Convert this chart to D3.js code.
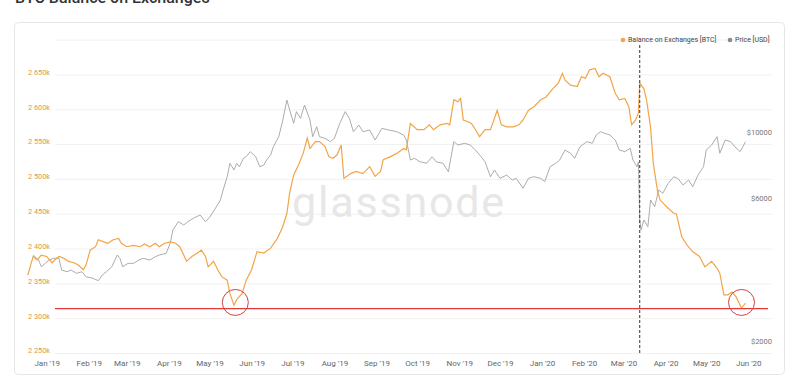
<!DOCTYPE html>
<html>
<head>
<meta charset="utf-8">
<script src="https://cdn.jsdelivr.net/npm/d3@7"></script>
<style>
body { margin: 0; background: #fff; }
text { font-family: Roboto, "Open Sans", sans-serif; }
</style>
</head>
<body>
<div id="chart"></div>
<script>
// BTC balance held on exchanges, thousands of BTC
var balance = [
	["2018-12-18",2358],["2018-12-22",2385],["2018-12-25",2380],["2018-12-28",2387],
	["2019-01-01",2385],["2019-01-05",2376],["2019-01-07",2380],["2019-01-10",2385],["2019-01-13",2383],["2019-01-17",2378],["2019-01-21",2376],["2019-01-24",2373],["2019-01-28",2366],["2019-01-30",2373],
	["2019-02-02",2394],["2019-02-06",2399],["2019-02-08",2409],["2019-02-12",2406],["2019-02-15",2404],["2019-02-19",2409],["2019-02-23",2411],["2019-02-25",2404],
	["2019-03-01",2399],["2019-03-06",2401],["2019-03-11",2399],["2019-03-14",2403],["2019-03-18",2399],["2019-03-22",2404],["2019-03-25",2399],["2019-03-29",2404],
	["2019-04-02",2406],["2019-04-06",2404],["2019-04-09",2399],["2019-04-12",2387],["2019-04-14",2378],["2019-04-18",2385],["2019-04-22",2390],["2019-04-25",2394],["2019-04-28",2385],["2019-04-30",2370],
	["2019-05-04",2378],["2019-05-07",2366],["2019-05-10",2356],["2019-05-14",2351],["2019-05-16",2332],["2019-05-19",2315],["2019-05-21",2323],["2019-05-25",2332],["2019-05-28",2351],
	["2019-06-01",2366],["2019-06-05",2392],["2019-06-10",2390],["2019-06-15",2397],["2019-06-20",2411],["2019-06-24",2428],["2019-06-27",2447],["2019-06-29",2476],
	["2019-07-02",2502],["2019-07-05",2514],["2019-07-09",2533],["2019-07-12",2555],["2019-07-14",2540],["2019-07-18",2550],["2019-07-21",2550],["2019-07-25",2543],["2019-07-28",2528],["2019-07-31",2526],
	["2019-08-03",2531],["2019-08-06",2545],["2019-08-08",2497],["2019-08-13",2504],["2019-08-17",2507],["2019-08-22",2504],["2019-08-27",2514],["2019-08-31",2500],
	["2019-09-04",2507],["2019-09-06",2524],["2019-09-11",2528],["2019-09-16",2533],["2019-09-21",2540],["2019-09-23",2538],["2019-09-26",2576],
	["2019-10-01",2567],["2019-10-06",2567],["2019-10-10",2574],["2019-10-13",2567],["2019-10-18",2574],["2019-10-23",2576],["2019-10-25",2574],["2019-10-28",2610],["2019-10-31",2607],
	["2019-11-02",2612],["2019-11-04",2581],["2019-11-08",2578],["2019-11-10",2576],["2019-11-13",2567],["2019-11-16",2557],["2019-11-20",2567],["2019-11-24",2567],["2019-11-29",2595],
	["2019-12-02",2574],["2019-12-06",2571],["2019-12-11",2571],["2019-12-15",2574],["2019-12-18",2581],["2019-12-22",2595],["2019-12-26",2600],["2019-12-31",2610],
	["2020-01-04",2614],["2020-01-09",2626],["2020-01-13",2634],["2020-01-16",2648],["2020-01-18",2638],["2020-01-22",2631],["2020-01-27",2629],["2020-01-30",2643],
	["2020-02-02",2641],["2020-02-05",2653],["2020-02-09",2655],["2020-02-12",2643],["2020-02-15",2648],["2020-02-20",2643],["2020-02-24",2619],["2020-02-27",2610],
	["2020-03-02",2612],["2020-03-05",2600],["2020-03-07",2574],["2020-03-10",2581],["2020-03-12",2591],["2020-03-13",2634],["2020-03-16",2626],["2020-03-18",2610],["2020-03-21",2570],["2020-03-23",2519],["2020-03-26",2480],["2020-03-28",2466],
	["2020-04-02",2456],["2020-04-07",2447],["2020-04-09",2446],["2020-04-13",2413],["2020-04-17",2401],["2020-04-21",2392],["2020-04-26",2385],["2020-04-30",2370],
	["2020-05-05",2378],["2020-05-09",2368],["2020-05-11",2361],["2020-05-14",2330],["2020-05-17",2330],["2020-05-20",2334],["2020-05-23",2327],["2020-05-27",2311],["2020-05-30",2318]
];

// BTC price, USD
var price = [
	["2018-12-22",3869],["2018-12-26",3723],["2018-12-28",3535],["2018-12-31",3629],
	["2019-01-03",3723],["2019-01-06",3772],["2019-01-10",3772],["2019-01-12",3447],["2019-01-16",3402],["2019-01-19",3447],["2019-01-23",3360],["2019-01-27",3402],["2019-01-30",3273],
	["2019-02-04",3234],["2019-02-08",3175],["2019-02-11",3317],["2019-02-14",3402],["2019-02-18",3535],["2019-02-22",3869],["2019-02-24",3772],["2019-02-26",3535],
	["2019-03-02",3629],["2019-03-06",3629],["2019-03-10",3723],["2019-03-13",3772],["2019-03-18",3723],["2019-03-22",3819],["2019-03-25",3869],["2019-03-30",3920],
	["2019-04-02",4234],["2019-04-04",4690],["2019-04-08",5000],["2019-04-12",4875],["2019-04-15",5000],["2019-04-19",5133],["2019-04-24",5265],["2019-04-28",5000],
	["2019-05-01",5170],["2019-05-05",5514],["2019-05-09",5910],["2019-05-11",6383],["2019-05-14",7071],["2019-05-16",7839],["2019-05-19",7445],["2019-05-21",7839],["2019-05-23",7638],["2019-05-26",8147],["2019-05-28",8249],["2019-05-31",8574],
	["2019-06-04",8249],["2019-06-07",7638],["2019-06-10",7737],["2019-06-12",8040],["2019-06-15",8360],["2019-06-17",8906],["2019-06-21",9623],["2019-06-24",10940],["2019-06-27",12760],["2019-06-29",11820],
	["2019-07-02",10670],["2019-07-04",11670],["2019-07-07",11090],["2019-07-10",12280],["2019-07-14",10940],["2019-07-16",9623],["2019-07-19",10390],["2019-07-21",9623],["2019-07-25",9504],["2019-07-29",9260],
	["2019-08-01",9504],["2019-08-05",10670],["2019-08-09",11670],["2019-08-12",11090],["2019-08-15",10000],["2019-08-19",10530],["2019-08-22",10000],["2019-08-27",10130],["2019-08-31",9380],
	["2019-09-05",10260],["2019-09-10",10130],["2019-09-16",10000],["2019-09-21",9750],["2019-09-23",9380],["2019-09-26",8040],["2019-09-29",8147],
	["2019-10-03",7937],["2019-10-08",7839],["2019-10-12",8249],["2019-10-15",7937],["2019-10-20",7839],["2019-10-24",7348],["2019-10-28",9260],["2019-10-31",9027],
	["2019-11-05",9146],["2019-11-09",9027],["2019-11-13",8686],["2019-11-16",8360],["2019-11-20",7937],["2019-11-24",7071],["2019-11-27",7445],
	["2019-12-01",6984],["2019-12-06",7165],["2019-12-10",6894],["2019-12-13",6984],["2019-12-18",6467],["2019-12-22",6984],["2019-12-26",7071],["2019-12-31",6984],
	["2020-01-03",6805],["2020-01-07",7638],["2020-01-11",7839],["2020-01-14",8040],["2020-01-18",8686],["2020-01-22",8469],["2020-01-25",8147],["2020-01-29",8906],
	["2020-02-03",9260],["2020-02-07",9146],["2020-02-10",9750],["2020-02-13",10000],["2020-02-16",9877],["2020-02-20",9750],["2020-02-24",9380],["2020-02-27",8686],
	["2020-03-02",8574],["2020-03-06",8801],["2020-03-08",8040],["2020-03-11",7638],["2020-03-12",7919],["2020-03-13",5066],["2020-03-14",4690],["2020-03-16",5066],["2020-03-19",4812],["2020-03-21",5910],["2020-03-24",5613],["2020-03-27",6383],["2020-03-30",6223],
	["2020-04-03",6721],["2020-04-07",7071],["2020-04-10",6984],["2020-04-14",6633],["2020-04-18",6894],["2020-04-21",6546],["2020-04-25",7165],["2020-04-29",7638],
	["2020-05-01",8686],["2020-05-05",9027],["2020-05-09",9623],["2020-05-11",8469],["2020-05-15",9380],["2020-05-19",9260],["2020-05-22",8906],["2020-05-26",8574],["2020-05-30",9260]
];

var balanceTicks = [2250, 2300, 2350, 2400, 2450, 2500, 2550, 2600, 2650];
var priceTicks = [2000, 6000, 10000];

// annotations: support level, circled lows, crash day
var supportLevel = 2310;
var circledLows = [["2019-05-20", 2319], ["2020-05-27", 2319]];
var crashDate = "2020-03-13";

var width = 800, height = 389;
var parse = d3.utcParse("%Y-%m-%d");

var svg = d3.select("#chart")
	.append("svg")
	.attr("width", width)
	.attr("height", height);

var x = d3.scaleUtc()
	.domain([parse("2019-01-01"), parse("2020-06-01")])
	.range([46.7, 748.3]);

var yBal = d3.scaleLinear()
	.domain([2250, 2650])
	.range([350.5, 71.9]);

var yPrice = d3.scaleLog()
	.domain([2000, 10000])
	.range([340.7, 131.7]);

// page title, scrolled partly out of view as in the screenshot
svg.append("text")
	.attr("x", 15)
	.attr("y", 3)
	.attr("font-size", 16)
	.attr("font-weight", 500)
	.attr("fill", "#333")
	.text("BTC Balance on Exchanges");

// card
svg.append("rect")
	.attr("x", 14.5)
	.attr("y", 22.5)
	.attr("width", 770)
	.attr("height", 352)
	.attr("rx", 4)
	.attr("fill", "#fff")
	.attr("stroke", "#e6e6e6");

// gridlines
svg.append("g")
	.selectAll("line")
	.data(balanceTicks.concat([2700]))
	.enter()
	.append("line")
	.attr("x1", 55)
	.attr("x2", 772)
	.attr("y1", function(d){ return yBal(d) + 3; })
	.attr("y2", function(d){ return yBal(d) + 3; })
	.attr("stroke", "#f1f1f1");

// watermark
svg.append("text")
	.attr("x", 292)
	.attr("y", 217)
	.attr("font-size", 43)
	.attr("letter-spacing", 1.8)
	.attr("fill", "#e7e7e7")
	.text("glassnode");

var xAxis = d3.axisBottom(x)
	.ticks(d3.utcMonth.every(1))
	.tickFormat(d3.utcFormat("%b '%y"))
	.tickSizeInner(0)
	.tickSizeOuter(0)
	.tickPadding(4);

var gx = svg.append("g")
	.attr("transform", "translate(0,356)")
	.call(xAxis);
gx.select(".domain").remove();
gx.selectAll("text").attr("font-size", 8).attr("fill", "#666").attr("font-family", "Roboto");

var yAxisL = d3.axisLeft(yBal)
	.tickValues(balanceTicks)
	.tickFormat(function(d){ return d3.format(",")(d).replace(",", " ") + "k"; })
	.tickSizeInner(0)
	.tickSizeOuter(0)
	.tickPadding(0);

var gl = svg.append("g")
	.attr("transform", "translate(50,0)")
	.call(yAxisL);
gl.select(".domain").remove();
gl.selectAll("text").attr("font-size", 7.3).attr("fill", "#d39a4e").attr("font-family", "Roboto");

var yAxisR = d3.axisRight(yPrice)
	.tickValues(priceTicks)
	.tickFormat(function(d){ return "$" + d; })
	.tickSizeInner(0)
	.tickSizeOuter(0)
	.tickPadding(0);

var gr = svg.append("g")
	.attr("transform", "translate(772,0)")
	.call(yAxisR);
gr.select(".domain").remove();
gr.selectAll("text").attr("text-anchor", "end").attr("font-size", 7.5).attr("fill", "#777").attr("font-family", "Roboto");

// price line
var priceLine = d3.line()
	.x(function(d){ return x(parse(d[0])); })
	.y(function(d){ return yPrice(d[1]); });

svg.append("path")
	.datum(price)
	.attr("d", priceLine)
	.attr("fill", "none")
	.attr("stroke", "#a3a3a3")
	.attr("stroke-width", 0.9);

// balance line
var balanceLine = d3.line()
	.x(function(d){ return x(parse(d[0])); })
	.y(function(d){ return yBal(d[1]); });

svg.append("path")
	.datum(balance)
	.attr("d", balanceLine)
	.attr("fill", "none")
	.attr("stroke", "#f2a546")
	.attr("stroke-width", 1.2);

// crash marker
svg.append("line")
	.attr("x1", x(parse(crashDate)))
	.attr("x2", x(parse(crashDate)))
	.attr("y1", 45)
	.attr("y2", 353)
	.attr("stroke", "#333")
	.attr("stroke-width", 1)
	.attr("stroke-dasharray", "3,2");

// support line and circles
svg.append("line")
	.attr("x1", 55)
	.attr("x2", 768)
	.attr("y1", yBal(supportLevel))
	.attr("y2", yBal(supportLevel))
	.attr("stroke", "#e23a3a")
	.attr("stroke-width", 1.2);

svg.selectAll(".low")
	.data(circledLows)
	.enter()
	.append("circle")
	.attr("class", "low")
	.attr("cx", function(d){ return x(parse(d[0])); })
	.attr("cy", function(d){ return yBal(d[1]); })
	.attr("r", 13)
	.attr("fill", "none")
	.attr("stroke", "#dd3b3b")
	.attr("stroke-width", 1);

// legend
var legend = [
	{ name: "Balance on Exchanges [BTC]", color: "#f2a546", x: 623 },
	{ name: "Price [USD]", color: "#8a8a8a", x: 730 }
];

var lg = svg.selectAll(".legend")
	.data(legend)
	.enter()
	.append("g")
	.attr("class", "legend")
	.attr("transform", function(d){ return "translate(" + d.x + ",40)"; });

lg.append("circle")
	.attr("r", 2.3)
	.attr("fill", function(d){ return d.color; });

lg.append("text")
	.attr("x", 5)
	.attr("dy", "0.35em")
	.attr("font-size", 7)
	.attr("fill", "#444")
	.text(function(d){ return d.name; });
</script>
</body>
</html>
